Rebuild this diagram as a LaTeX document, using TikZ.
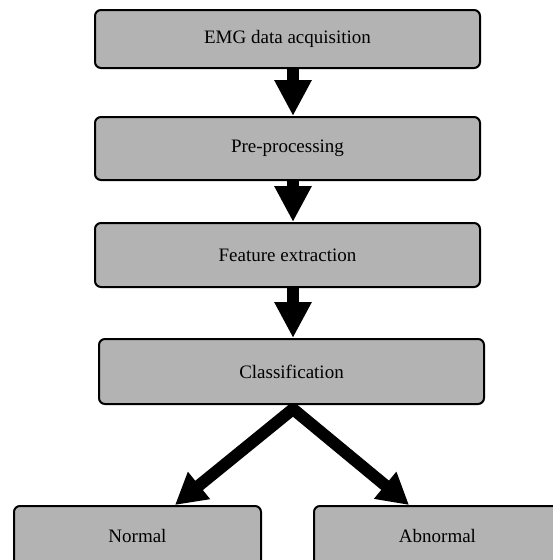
\documentclass[tikz,border=0pt]{standalone}
\usepackage{fontspec}
\setmainfont{Liberation Serif}
\usetikzlibrary{arrows.meta,calc,backgrounds}
\definecolor{boxgray}{RGB}{179,179,179}
\begin{document}
\begin{tikzpicture}[x=1pt,y=-1pt,
  stagebox/.style={draw=black,line width=2pt,fill=boxgray,rounded corners=6pt,
    inner sep=0pt,font=\fontsize{19}{22}\selectfont},
  varrow/.style={line width=12pt,-{Triangle[length=36pt,width=35pt]}},
  darrow/.style={line width=12pt,line join=miter,
    {Triangle[length=31pt,width=33pt]}-{Triangle[length=31pt,width=33pt]}}]
\useasboundingbox (0,0) rectangle (553,560);
\node[stagebox,minimum width=385pt,minimum height=58pt] (emg) at (287.5,39) {EMG data acquisition};
\node[stagebox,minimum width=385pt,minimum height=63pt] (pre) at (287.5,148.5) {Pre-processing};
\node[stagebox,minimum width=385pt,minimum height=64pt] (feat) at (287.5,255) {Feature extraction};
\node[stagebox,minimum width=385pt,minimum height=65pt] (cls) at (291.5,371.5) {Classification};
\node[stagebox,minimum width=247pt,minimum height=60pt] (norm) at (137.5,536) {Normal};
\node[stagebox,minimum width=247pt,minimum height=60pt] (abn) at (437.5,536) {Abnormal};
\coordinate (apex) at ($(cls.south)+(1.5,4)$);
\coordinate (ltip) at ($(norm.north)+(37.5,0)$);
\coordinate (rtip) at ($(abn.north)+(-28.5,0)$);
\begin{scope}[on background layer]
\fill[white] (0,0) rectangle (553,560);
\draw[varrow] ($(emg.south)+(5.5,0)$) -- ($(pre.north)+(5.5,0)$);
\draw[varrow] ($(pre.south)+(5.5,0)$) -- ($(feat.north)+(5.5,0)$);
\draw[varrow] ($(feat.south)+(5.5,0)$) -- ($(cls.north)+(1.5,0)$);
\draw[darrow] (ltip) -- (apex) -- (rtip);
\end{scope}
\end{tikzpicture}
\end{document}
